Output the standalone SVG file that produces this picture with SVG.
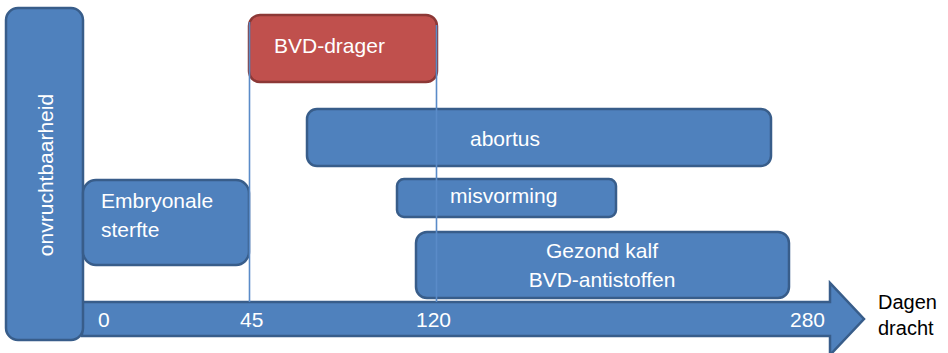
<svg xmlns="http://www.w3.org/2000/svg" width="948" height="353" viewBox="0 0 948 353">
<style>
.blue{fill:#4f81bd;stroke:#385d8a;stroke-width:2.5}
.red{fill:#c0504d;stroke:#8c3836;stroke-width:2.5}
.t{font-family:"Liberation Sans",Arial,sans-serif;font-size:21px;fill:#ffffff}
.k{font-family:"Liberation Sans",Arial,sans-serif;font-size:20px;fill:#000000}
.m{text-anchor:middle}
.vl{stroke:#5a8bc8;stroke-width:1.6;fill:none}
</style>
<rect width="948" height="353" fill="#ffffff"/>
<g id="axis">
<polygon class="blue" points="82,302 830,302 830,283 864,319 830,355 830,336 82,336" stroke-linejoin="miter"/>
<text class="t" x="98" y="327">0</text>
<text class="t" x="240" y="327">45</text>
<text class="t" x="416" y="327">120</text>
<text class="t" x="790" y="327">280</text>
</g>
<g id="onvruchtbaarheid">
<rect class="blue" x="6" y="8" width="77" height="332" rx="12"/>
<text class="t m" transform="translate(53,175) rotate(-90)" font-size="22">onvruchtbaarheid</text>
</g>
<g id="embryonale">
<rect class="blue" x="83" y="180" width="166" height="85" rx="13"/>
<text class="t" x="101" y="208">Embryonale</text>
<text class="t" x="101" y="237">sterfte</text>
</g>
<g id="bvd-drager">
<rect class="red" x="249" y="15" width="188" height="67" rx="11"/>
<text class="t" x="274" y="53">BVD-drager</text>
</g>
<g id="abortus">
<rect class="blue" x="307" y="109" width="464" height="57" rx="10"/>
<text class="t m" x="505" y="146">abortus</text>
</g>
<g id="misvorming">
<rect class="blue" x="397" y="179" width="219" height="38" rx="7"/>
<text class="t" x="450" y="203">misvorming</text>
</g>
<g id="gezond">
<rect class="blue" x="416" y="232" width="373" height="66" rx="11"/>
<text class="t m" x="602" y="258">Gezond kalf</text>
<text class="t m" x="602" y="287">BVD-antistoffen</text>
</g>
<g id="connectors">
<line class="vl" x1="249.5" y1="22" x2="249.5" y2="302"/>
<line class="vl" x1="436.5" y1="25" x2="436.5" y2="302"/>
</g>
<g id="label">
<text class="k" x="878" y="309">Dagen</text>
<text class="k" x="878" y="335">dracht</text>
</g>
</svg>
